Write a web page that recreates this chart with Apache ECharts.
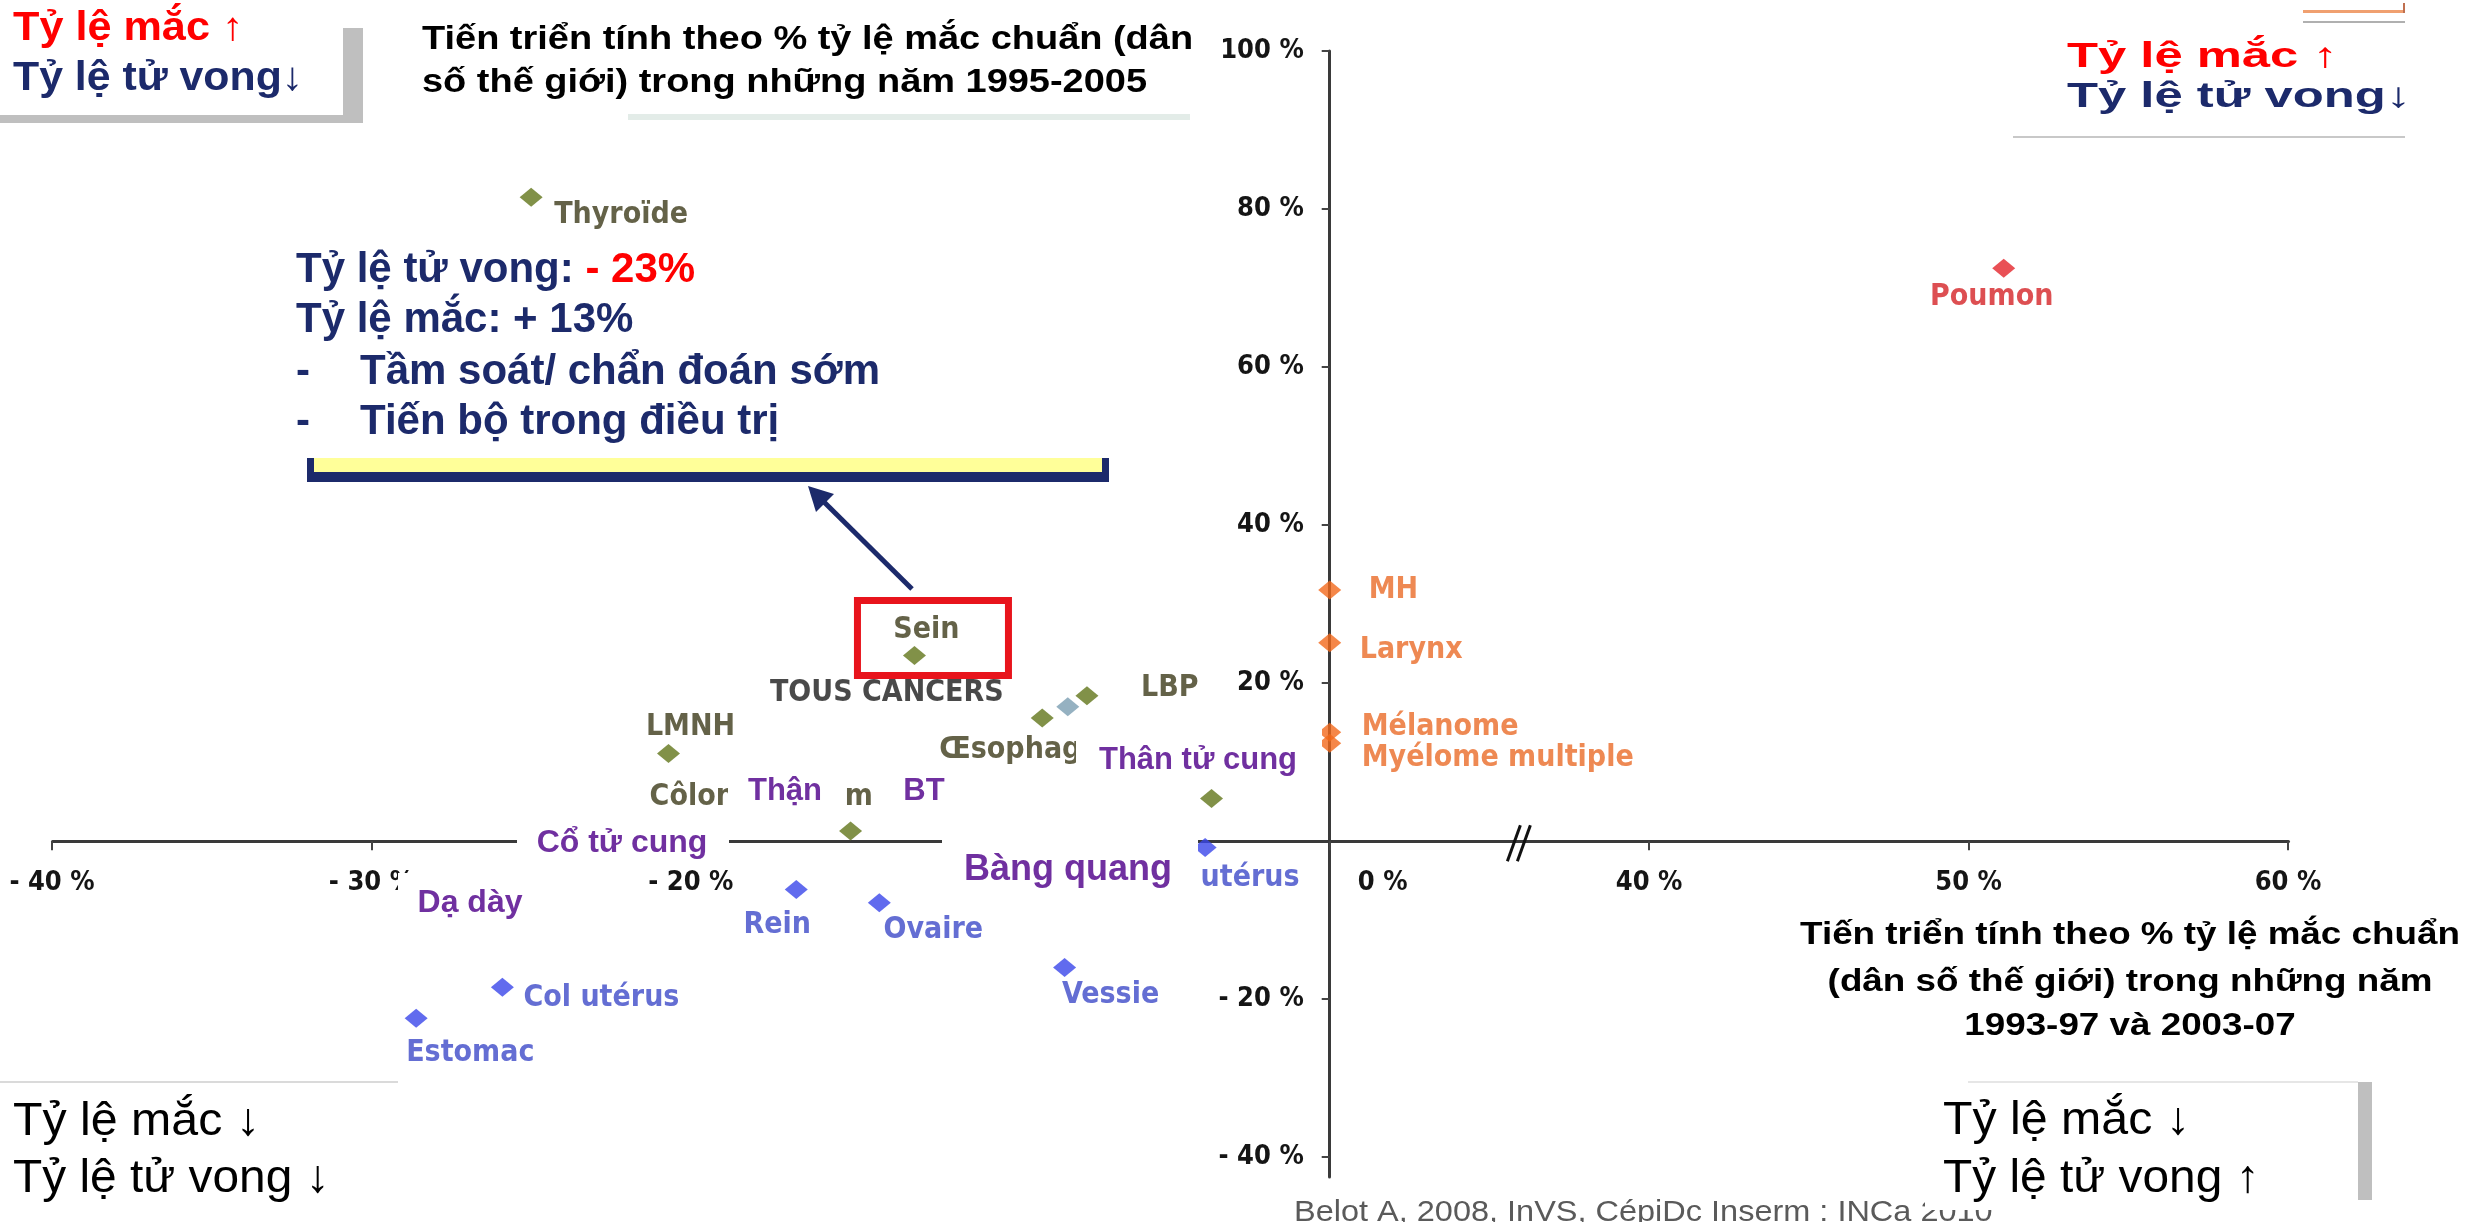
<!DOCTYPE html>
<html><head><meta charset="utf-8">
<script src="https://cdn.jsdelivr.net/npm/echarts@6/dist/echarts.min.js"></script>
<style>html,body{margin:0;padding:0;background:#fff}#c{width:2474px;height:1222px}</style>
</head><body><div id="c"></div>
<script>
// ---- tick labels ----
const xTicks = [-40, -30, -20, -10, 0, 40, 50, 60];
const yTicks = [-40, -20, 20, 40, 60, 80, 100];

// ---- series values (x = % change, y = % change) ----
const oliveNames = ['Thyroïde', 'Sein', 'LBP', 'Œsophage', 'LMNH', 'Côlon - rectum', ''];
const oliveX = [-25, -13, -7.6, -9, -20.7, -15, -3.7];
const oliveY = [81.5, 23.5, 18.4, 15.6, 11.1, 1.3, 5.4];

const allNames = ['TOUS CANCERS'];
const allX = [-8.2];
const allY = [17];

const blueNames = ['Corps utérus', 'Rein', 'Ovaire', 'Vessie', 'Col utérus', 'Estomac'];
const blueX = [-3.9, -16.7, -14.1, -8.3, -25.9, -28.6];
const blueY = [-0.8, -6.1, -7.8, -16, -18.5, -22.4];

const orangeNames = ['MH', 'Larynx', 'Mélanome', 'Myélome multiple'];
const orangeX = [0, 0, 0, 0];
const orangeY = [31.8, 25.1, 13.8, 12.4];

const redNames = ['Poumon'];
const redX = [51.1];
const redY = [72.5];

// ---- label placement (style only) ----
const labelPlace = {
  'Thyroïde': ['left', 23, 18],
  'Sein': ['center', 12, -25],
  'LBP': ['left', 54, -8],
  'Œsophage': ['left', -103, 32],
  'LMNH': ['center', 22, -26],
  'Côlon - rectum': ['left', -201, -34],
  'TOUS CANCERS': ['right', -64, -14],
  'Corps utérus': ['left', -101, 31],
  'Rein': ['center', -19, 36],
  'Ovaire': ['center', 54, 27],
  'Vessie': ['center', 46, 28],
  'Col utérus': ['left', 21, 11],
  'Estomac': ['left', -10, 35],
  'MH': ['left', 39, 0],
  'Larynx': ['left', 30, 7],
  'Mélanome': ['left', 32, -5],
  'Myélome multiple': ['left', 32, 15],
  'Poumon': ['center', -12, 29]
};

function mk(names, xs, ys, color, labelColor) {
  return {
    type: 'scatter', symbol: 'diamond', symbolSize: [23, 19],
    itemStyle: { color: color },
    label: { show: true, position: 'inside', formatter: '{b}', color: labelColor,
      fontFamily: 'DejaVu Sans Condensed', fontWeight: 'bold', fontSize: 30, textBorderWidth: 0 },
    data: names.map(function (n, i) {
      const p = labelPlace[n];
      return { name: n, value: [xs[i], ys[i]],
        label: p ? { show: true, align: p[0], verticalAlign: 'middle', offset: [p[1], p[2]] } : { show: false } };
    })
  };
}

const chart = echarts.init(document.getElementById('c'), null, { renderer: 'canvas' });
const axisFont = { fontFamily: 'DejaVu Sans Condensed', fontWeight: 'bold', fontSize: 27, color: '#151515' };
const fmtPct = function (v) { return v < 0 ? '- ' + (-v) + ' %' : v + ' %'; };
const GRID = { left: 52, right: 186, top: 51, bottom: 45 };

chart.setOption({
  animation: false,
  backgroundColor: '#ffffff',
  grid: Object.assign({ containLabel: false, outerBoundsMode: 'none' }, GRID),
  xAxis: {
    type: 'value', min: -40, max: 60, interval: 10,
    breaks: [{ start: 6, end: 36, gap: 0 }],
    breakArea: { show: false, expandOnClick: false },
    axisLine: { onZero: false, lineStyle: { color: '#3a3a3a', width: 3 } },
    axisTick: { show: true, length: 9, lineStyle: { color: '#444', width: 2 }, customValues: xTicks },
    axisLabel: Object.assign({}, axisFont, {
      customValues: xTicks, margin: 28,
      formatter: function (v) { return v === 0 ? '{z|0 %}' : fmtPct(v); },
      rich: { z: { padding: [0, 0, 0, 106], fontFamily: 'DejaVu Sans Condensed', fontWeight: 'bold', fontSize: 27, color: '#151515' } }
    }),
    splitLine: { show: false }
  },
  yAxis: {
    type: 'value', min: -42.5, max: 100,
    axisLine: { onZero: false, lineStyle: { color: '#3a3a3a', width: 3 } },
    axisTick: { show: true, length: 8, lineStyle: { color: '#444', width: 2 }, customValues: yTicks },
    axisLabel: Object.assign({}, axisFont, { customValues: yTicks, margin: 26, formatter: fmtPct }),
    splitLine: { show: false }
  },
  series: [
    mk(oliveNames, oliveX, oliveY, '#62751a', '#3d3b1a'),
    mk(allNames, allX, allY, '#7b9db1', '#1c1c1c'),
    mk(blueNames, blueX, blueY, '#3a46ea', '#3d4ac8'),
    mk(orangeNames, orangeX, orangeY, '#f2691c', '#ea6c28'),
    mk(redNames, redX, redY, '#e3242b', '#d42327')
  ]
});

// move both axes onto the zero lines (whole axis incl. labels)
const zero = chart.convertToPixel({ xAxisIndex: 0, yAxisIndex: 0 }, [0, 0]);
const H = chart.getHeight();
chart.setOption({
  xAxis: { offset: -((H - GRID.bottom) - zero[1]) },
  yAxis: { offset: -(zero[0] - GRID.left) }
});

// ---- annotations ----
const NAVY = '#1c2a6b', PURPLE = '#7030a0';
const ARIAL = '"Liberation Sans", Arial, sans-serif';
function txt(x, y, text, font, fill, align, extra) {
  return Object.assign({ type: 'text', x: x, y: y, z: 100,
    style: { text: text, font: font, fill: fill, align: align || 'left', verticalAlign: 'middle' } }, extra || {});
}
function rect(x, y, w, h, fill, z, extra) {
  return Object.assign({ type: 'rect', z: z || 99, shape: { x: x, y: y, width: w, height: h }, style: { fill: fill } }, extra || {});
}
function box(x, y, w, h, text, cx, cy, size) {
  return [rect(x, y, w, h, '#ffffff', 99), txt(cx, cy, text, 'bold ' + size + 'px ' + ARIAL, PURPLE, 'center')];
}

const sein = chart.convertToPixel({ seriesIndex: 0 }, [oliveX[1], oliveY[1]]);
const brk = chart.convertToPixel({ xAxisIndex: 0, yAxisIndex: 0 }, [6, 0]);

let g = [];
// top-left box
g.push(rect(343, 28, 20, 95, '#bfbfbf', 98));
g.push(rect(0, 115, 363, 8, '#bfbfbf', 98));
g.push(txt(13, 29, 'Tỷ lệ mắc ↑', 'bold 40px ' + ARIAL, '#ff0000', 'left', { scaleX: 1.08 }));
g.push(txt(13, 79, 'Tỷ lệ tử vong↓', 'bold 40px ' + ARIAL, NAVY, 'left', { scaleX: 1.07 }));
// top title
g.push(txt(422, 40, 'Tiến triển tính theo % tỷ lệ mắc chuẩn (dân', 'bold 33px ' + ARIAL, '#000', 'left', { scaleX: 1.15 }));
g.push(txt(422, 83, 'số thế giới) trong những năm 1995-2005', 'bold 33px ' + ARIAL, '#000', 'left', { scaleX: 1.15 }));
g.push(rect(628, 114, 562, 6, '#e3ece8', 98));
// top-right
g.push(rect(2303, 10, 102, 3, '#f0a070', 98));
g.push(rect(2303, 21, 102, 2, '#b0b0b0', 98));
g.push(rect(2403, 3, 2, 10, '#c07050', 98));
g.push(txt(2067, 57, 'Tỷ lệ mắc ↑', 'bold 35px ' + ARIAL, '#ff0000', 'left', { scaleX: 1.45 }));
g.push(txt(2067, 97, 'Tỷ lệ tử vong↓', 'bold 35px ' + ARIAL, NAVY, 'left', { scaleX: 1.45 }));
g.push(rect(2013, 136, 392, 2, '#c8c8c8', 98));
// annotation block
g.push({ type: 'text', x: 296, y: 270, z: 100, style: { text: '{a|Tỷ lệ tử vong: }{b|- 23%}', verticalAlign: 'middle',
  rich: { a: { fill: NAVY, fontSize: 42, fontWeight: 'bold', fontFamily: ARIAL },
          b: { fill: '#ff0000', fontSize: 42, fontWeight: 'bold', fontFamily: ARIAL } } } });
g.push(txt(296, 320, 'Tỷ lệ mắc: + 13%', 'bold 42px ' + ARIAL, NAVY));
g.push(txt(296, 372, '-', 'bold 42px ' + ARIAL, NAVY));
g.push(txt(360, 372, 'Tầm soát/ chẩn đoán sớm', 'bold 42px ' + ARIAL, NAVY));
g.push(txt(296, 422, '-', 'bold 42px ' + ARIAL, NAVY));
g.push(txt(360, 422, 'Tiến bộ trong điều trị', 'bold 42px ' + ARIAL, NAVY));
g.push(rect(307, 458, 802, 24, NAVY, 98));
g.push(rect(314, 458, 788, 14, '#ffff99', 99));
// arrow
g.push({ type: 'line', z: 100, shape: { x1: 912, y1: 589, x2: 822, y2: 500 }, style: { stroke: NAVY, lineWidth: 5 } });
g.push({ type: 'polygon', z: 100, shape: { points: [[808, 486], [834, 494], [816, 512]] }, style: { fill: NAVY } });
// red box around Sein
g.push({ type: 'rect', z: 100, shape: { x: sein[0] - 57, y: sein[1] - 55, width: 151, height: 75 },
  style: { fill: 'none', stroke: '#e8141c', lineWidth: 7 } });
// axis break mark
g.push({ type: 'line', z: 100, shape: { x1: brk[0] - 14, y1: brk[1] + 20, x2: brk[0] - 1, y2: brk[1] - 16 }, style: { stroke: '#111', lineWidth: 3 } });
g.push({ type: 'line', z: 100, shape: { x1: brk[0] - 4, y1: brk[1] + 20, x2: brk[0] + 9, y2: brk[1] - 16 }, style: { stroke: '#111', lineWidth: 3 } });
// purple overlays
g = g.concat(box(1076, 728, 246, 60, 'Thân tử cung', 1198, 760, 31));
g = g.concat(box(728, 758, 117, 60, 'Thận', 785, 791, 31));
g = g.concat(box(887, 760, 79, 54, 'BT', 924, 791, 31));
g = g.concat(box(517, 815, 212, 53, 'Cổ tử cung', 622, 843, 32));
g = g.concat(box(398, 873, 127, 52, 'Dạ dày', 470, 903, 32));
g = g.concat(box(942, 838, 256, 62, 'Bàng quang', 1068, 870, 36));
// bottom-left
g.push(rect(0, 1081, 398, 2, '#dadada', 98));
g.push(txt(13, 1122, 'Tỷ lệ mắc ↓', '46px ' + ARIAL, '#000', 'left', { scaleX: 1.05 }));
g.push(txt(13, 1179, 'Tỷ lệ tử vong ↓', '46px ' + ARIAL, '#000', 'left', { scaleX: 1.04 }));
// bottom-right title
g.push(txt(2130, 935, 'Tiến triển tính theo % tỷ lệ mắc chuẩn', 'bold 32px ' + ARIAL, '#000', 'center', { scaleX: 1.15 }));
g.push(txt(2130, 982, '(dân số thế giới) trong những năm', 'bold 32px ' + ARIAL, '#000', 'center', { scaleX: 1.15 }));
g.push(txt(2130, 1026, '1993-97 và 2003-07', 'bold 32px ' + ARIAL, '#000', 'center', { scaleX: 1.15 }));
// footer
g.push(Object.assign(txt(1294, 1213, 'Belot A, 2008, InVS, CépiDc Inserm : INCa 2010', '29px ' + ARIAL, '#5a5a5a', 'left', { scaleX: 1.12 }), { z: 90 }));
// bottom-right box
g.push(rect(1925, 1083, 433, 127, '#ffffff', 95));
g.push(rect(1968, 1081, 390, 2, '#e6e6e6', 98));
g.push(rect(2358, 1082, 14, 118, '#bfbfbf', 98));
g.push(txt(1943, 1121, 'Tỷ lệ mắc ↓', '46px ' + ARIAL, '#000', 'left', { scaleX: 1.05 }));
g.push(txt(1943, 1179, 'Tỷ lệ tử vong ↑', '46px ' + ARIAL, '#000', 'left', { scaleX: 1.04 }));

chart.setOption({ graphic: { elements: g } });
</script>
</body></html>
